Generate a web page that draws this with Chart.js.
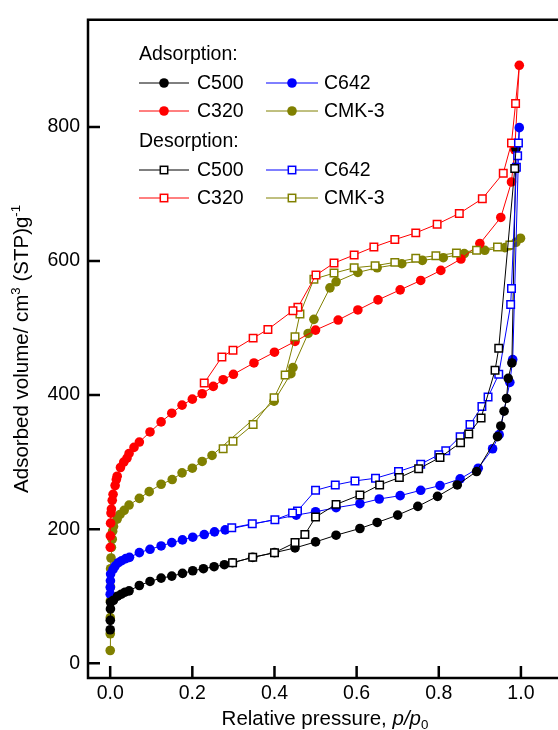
<!DOCTYPE html>
<html><head><meta charset="utf-8">
<script src="https://cdn.jsdelivr.net/npm/chart.js@4/dist/chart.umd.min.js"></script>
<style>html,body{margin:0;padding:0;background:#fff;overflow:hidden}#wrap{width:570px;height:730px}</style>
</head><body><div id="wrap"><canvas id="c" width="570" height="730"></canvas></div>
<script>
// ---- data (relative pressure p/p0, adsorbed volume cm3(STP)/g) ----
const xTickValues = [0, 0.2, 0.4, 0.6, 0.8, 1.0];
const yTickValues = [0, 200, 400, 600, 800];

const C500_ads = [[0.0001,50],[0.0003,64],[0.0006,81],[0.001,91],[0.008,94],[0.018,100],[0.027,103],[0.036,106],[0.046,108],[0.071,116],[0.097,122],[0.124,127],[0.150,130],[0.176,134],[0.201,138],[0.227,141],[0.253,144],[0.278,147],[0.298,150],[0.347,158],[0.400,165],[0.450,172],[0.500,181],[0.550,191],[0.608,201],[0.650,210],[0.700,221],[0.749,234],[0.797,249],[0.845,266],[0.892,286],[0.943,338],[0.951,354],[0.959,376],[0.965,395],[0.969,425],[0.978,448],[0.988,768]];
const C500_des = [[0.988,768],[0.985,738],[0.946,470],[0.937,437],[0.903,366],[0.873,342],[0.853,329],[0.803,307],[0.751,290],[0.704,277],[0.656,266],[0.608,251],[0.550,237],[0.500,218],[0.474,192],[0.450,180],[0.400,165],[0.347,158],[0.298,150]];

const C642_ads = [[0.0001,103],[0.0003,113],[0.0006,123],[0.001,133],[0.007,140],[0.012,145],[0.020,150],[0.028,153],[0.038,156],[0.047,158],[0.071,165],[0.097,170],[0.124,175],[0.150,180],[0.176,184],[0.201,188],[0.229,192],[0.254,196],[0.280,199],[0.453,221],[0.500,226],[0.550,232],[0.608,238],[0.655,245],[0.706,250],[0.756,258],[0.803,265],[0.852,275],[0.896,291],[0.931,320],[0.947,341],[0.973,419],[0.980,453],[0.996,799]];
const C642_des = [[0.996,799],[0.994,776],[0.992,757],[0.989,740],[0.977,559],[0.975,535],[0.946,431],[0.920,397],[0.905,383],[0.876,356],[0.852,338],[0.817,317],[0.800,311],[0.756,297],[0.702,286],[0.646,276],[0.596,272],[0.548,266],[0.500,258],[0.456,227],[0.444,224],[0.401,214],[0.346,208],[0.296,202]];

const C320_ads = [[0.0002,173],[0.0005,190],[0.001,209],[0.002,224],[0.003,230],[0.005,243],[0.007,252],[0.012,265],[0.015,274],[0.017,279],[0.025,292],[0.033,300],[0.041,306],[0.046,313],[0.058,322],[0.071,330],[0.097,345],[0.124,360],[0.150,373],[0.175,385],[0.200,394],[0.224,402],[0.251,413],[0.275,423],[0.300,431],[0.350,448],[0.400,464],[0.450,480],[0.500,497],[0.555,512],[0.603,527],[0.652,542],[0.706,557],[0.756,571],[0.805,586],[0.854,603],[0.900,626],[0.951,665],[0.977,718],[0.985,766],[0.996,892]];
const C320_des = [[0.996,892],[0.987,835],[0.977,776],[0.957,731],[0.906,693],[0.850,671],[0.796,655],[0.744,642],[0.693,632],[0.642,621],[0.594,609],[0.545,597],[0.501,579],[0.457,531],[0.445,526],[0.384,498],[0.348,485],[0.299,467],[0.272,457],[0.229,418]];

const CMK3_ads = [[0.0001,19],[0.0002,44],[0.0003,68],[0.0005,93],[0.0008,114],[0.001,141],[0.002,157],[0.003,173],[0.005,185],[0.006,197],[0.008,204],[0.017,215],[0.024,222],[0.034,228],[0.046,236],[0.071,246],[0.095,256],[0.124,267],[0.151,274],[0.175,284],[0.200,291],[0.224,301],[0.248,310],[0.399,391],[0.440,432],[0.445,441],[0.482,492],[0.496,513],[0.535,560],[0.550,569],[0.603,583],[0.650,590],[0.710,596],[0.760,601],[0.811,605],[0.862,611],[0.912,616],[0.961,620],[0.973,623],[0.988,628],[0.999,634]];
const CMK3_des = [[0.999,634],[0.973,624],[0.943,621],[0.892,616],[0.843,612],[0.793,608],[0.744,604],[0.693,598],[0.645,593],[0.594,590],[0.545,582],[0.496,573],[0.462,521],[0.450,487],[0.426,430],[0.399,396],[0.348,356],[0.299,331],[0.275,320]];

const COLORS = {C500:'#000000', C642:'#0000ff', C320:'#ff0000', CMK3:'#808000'};
const FONT = '"Liberation Sans", Arial, sans-serif';
const FS = 19.5;
const TFS = 20.5;

function pts(a){ return a.map(([x,y]) => ({x, y})); }
function ads(label, data, color){
  return {label, data: pts(data), showLine: true, borderColor: color, borderWidth: 1,
    pointStyle: 'circle', pointRadius: 4.8, pointBackgroundColor: color, pointBorderColor: color,
    pointBorderWidth: 0, order: 2};
}
function des(label, data, color){
  return {label, data: pts(data), showLine: true, borderColor: color, borderWidth: 1,
    pointStyle: 'rect', pointRadius: c => c.dataIndex === 0 ? 0 : 5.3, pointBackgroundColor: '#ffffff',
    pointBorderColor: color, pointBorderWidth: 1.5, order: 1};
}

const frame = {
  id: 'frame',
  afterDraw(chart){
    const ctx = chart.ctx, a = chart.chartArea;
    const xs = chart.scales.x, ys = chart.scales.y;
    ctx.save();
    ctx.strokeStyle = '#000'; ctx.lineWidth = 2.5; ctx.lineCap = 'butt';
    ctx.beginPath();
    ctx.moveTo(a.left, a.bottom + 1.25); ctx.lineTo(a.left, a.top);
    ctx.moveTo(a.left - 1.25, a.top); ctx.lineTo(chart.width, a.top);
    ctx.moveTo(a.left - 1.25, a.bottom); ctx.lineTo(chart.width, a.bottom);
    xTickValues.forEach(v => { const px = xs.getPixelForValue(v); ctx.moveTo(px, a.bottom); ctx.lineTo(px, a.bottom - 12); });
    yTickValues.forEach(v => { const py = ys.getPixelForValue(v); ctx.moveTo(a.left, py); ctx.lineTo(a.left + 12, py); });
    ctx.stroke();

    // x title
    ctx.fillStyle = '#000'; ctx.textBaseline = 'alphabetic';
    const f1 = FS + 'px ' + FONT;
    const t1 = TFS + 'px ' + FONT, t2 = 'italic ' + TFS + 'px ' + FONT, t3 = (TFS*0.65) + 'px ' + FONT;
    const parts = [['Relative pressure, ', t1, 0], ['p/p', t2, 0], ['0', t3, 4]];
    let w = 0; parts.forEach(p => { ctx.font = p[1]; p.push(ctx.measureText(p[0]).width); w += p[3]; });
    let x = (a.left + a.right)/2 - w/2; const by = 725;
    parts.forEach(p => { ctx.font = p[1]; ctx.fillText(p[0], x, by + p[2]); x += p[3]; });

    // y title
    ctx.save();
    ctx.translate(28, (a.top + a.bottom)/2);
    ctx.rotate(-Math.PI/2);
    const yp = [['Adsorbed volume/ cm', t1, 0], ['3', t3, -8], [' (STP)g', t1, 0], ['-1', t3, -8]];
    w = 0; yp.forEach(p => { ctx.font = p[1]; p.push(ctx.measureText(p[0]).width); w += p[3]; });
    x = -w/2;
    yp.forEach(p => { ctx.font = p[1]; ctx.fillText(p[0], x, p[2]); x += p[3]; });
    ctx.restore();

    // legend
    ctx.font = f1; ctx.textBaseline = 'middle'; ctx.fillStyle = '#000';
    ctx.fillText('Adsorption:', 139, 55);
    ctx.fillText('Desorption:', 139, 142);
    const rows = [
      ['C500', COLORS.C500, 83, 0, 'c'], ['C642', COLORS.C642, 83, 1, 'c'],
      ['C320', COLORS.C320, 111, 0, 'c'], ['CMK-3', COLORS.CMK3, 111, 1, 'c'],
      ['C500', COLORS.C500, 170, 0, 's'], ['C642', COLORS.C642, 170, 1, 's'],
      ['C320', COLORS.C320, 198, 0, 's'], ['CMK-3', COLORS.CMK3, 198, 1, 's']
    ];
    rows.forEach(([t, col, y, c, m]) => {
      const x1 = c ? 266 : 139, x2 = c ? 318 : 189, mx = c ? 292 : 164, tx = c ? 324 : 197;
      ctx.strokeStyle = col; ctx.lineWidth = 1;
      ctx.beginPath(); ctx.moveTo(x1, y); ctx.lineTo(x2, y); ctx.stroke();
      if (m === 'c') { ctx.fillStyle = col; ctx.beginPath(); ctx.arc(mx, y, 4.8, 0, Math.PI*2); ctx.fill(); }
      else { ctx.fillStyle = '#fff'; ctx.lineWidth = 1.5; ctx.fillRect(mx-3.7, y-3.7, 7.4, 7.4); ctx.strokeRect(mx-3.7, y-3.7, 7.4, 7.4); }
      ctx.fillStyle = '#000'; ctx.fillText(t, tx, y + 1);
    });
    ctx.restore();
  }
};

new Chart(document.getElementById('c'), {
  type: 'scatter',
  data: { datasets: [
    ads('C500 adsorption', C500_ads, COLORS.C500),
    ads('C642 adsorption', C642_ads, COLORS.C642),
    ads('C320 adsorption', C320_ads, COLORS.C320),
    ads('CMK-3 adsorption', CMK3_ads, COLORS.CMK3),
    des('C500 desorption', C500_des, COLORS.C500),
    des('C642 desorption', C642_des, COLORS.C642),
    des('C320 desorption', C320_des, COLORS.C320),
    des('CMK-3 desorption', CMK3_des, COLORS.CMK3)
  ]},
  options: {
    responsive: false, animation: false, devicePixelRatio: 1, events: [],
    layout: { padding: { top: 15, right: 8, left: 0, bottom: 0 } },
    plugins: { legend: { display: false }, tooltip: { enabled: false } },
    scales: {
      x: { type: 'linear', min: -0.054, max: 1.1,
        afterFit(s){ s.height = 52; },
        afterBuildTicks(s){ s.ticks = xTickValues.map(v => ({value: v})); },
        ticks: { callback: v => v.toFixed(1), font: {family: FONT, size: FS}, color: '#000', padding: 4, maxRotation: 0, autoSkip: false },
        grid: { display: false, drawTicks: false }, border: { display: false } },
      y: { type: 'linear', min: -22, max: 960,
        afterFit(s){ s.width = 88; },
        afterBuildTicks(s){ s.ticks = yTickValues.map(v => ({value: v})); },
        ticks: { callback: v => String(v), font: {family: FONT, size: FS}, color: '#000', padding: 8, autoSkip: false },
        grid: { display: false, drawTicks: false }, border: { display: false } }
    }
  },
  plugins: [frame]
});
</script></body></html>
